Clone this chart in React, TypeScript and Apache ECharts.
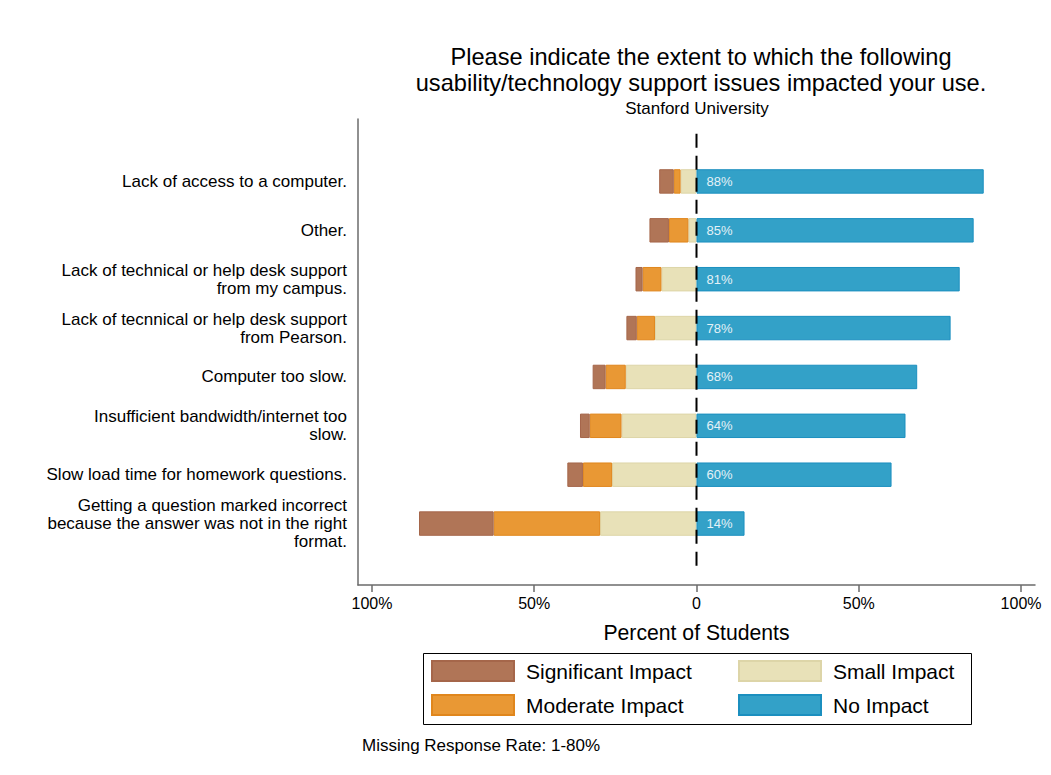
import React, { useEffect, useRef } from "react";
import * as echarts from "echarts";

const categories = [
  "Lack of access to a computer.",
  "Other.",
  "Lack of technical or help desk support\nfrom my campus.",
  "Lack of tecnnical or help desk support\nfrom Pearson.",
  "Computer too slow.",
  "Insufficient bandwidth/internet too\nslow.",
  "Slow load time for homework questions.",
  "Getting a question marked incorrect\nbecause the answer was not in the right\nformat.",
];

const significantImpact = [4.5, 6.0, 2.2, 3.2, 4.0, 3.0, 4.8, 23.0];
const moderateImpact = [2.1, 6.0, 5.8, 5.6, 6.2, 9.8, 9.0, 32.8];
const smallImpact = [4.9, 2.5, 10.8, 12.8, 21.8, 23.1, 26.0, 29.7];
const noImpact = [88.5, 85.4, 81.1, 78.3, 68.0, 64.4, 60.1, 14.8];

const xTickValues = [-100, -50, 0, 50, 100];

const FONT = "'Liberation Sans', Arial, Helvetica, sans-serif";

export default function App() {
  const ref = useRef<HTMLDivElement>(null);

  useEffect(() => {
    if (!ref.current) return;
    const chart = echarts.init(ref.current, null, { renderer: "svg" });

    const xMin = -104.3;
    const xMax = 104.3;

    const legendCommon = {
      orient: "vertical",
      itemWidth: 82,
      itemHeight: 20,
      itemGap: 12,
      padding: 0,
      icon: "rect",
      selectedMode: false,
      textStyle: {
        fontSize: 21,
        color: "#000",
        fontFamily: FONT,
        padding: [0, 0, 0, 7],
      },
    };

    const option: any = {
      animation: false,
      backgroundColor: "#fff",
      textStyle: { fontFamily: FONT },
      title: [
        {
          text:
            "Please indicate the extent to which the following\nusability/technology support issues impacted your use.",
          left: 701,
          top: 44,
          textAlign: "center",
          padding: 0,
          textStyle: {
            fontSize: 23.6,
            fontWeight: "normal",
            color: "#000",
            lineHeight: 26,
            fontFamily: FONT,
          },
        },
        {
          text: "Stanford University",
          left: 697,
          top: 100,
          textAlign: "center",
          padding: 0,
          textStyle: {
            fontSize: 17,
            fontWeight: "normal",
            color: "#000",
            fontFamily: FONT,
          },
        },
        {
          text: "Missing Response Rate: 1-80%",
          left: 362,
          top: 737,
          padding: 0,
          textStyle: {
            fontSize: 17,
            fontWeight: "normal",
            color: "#000",
            fontFamily: FONT,
          },
        },
      ],
      legend: [
        {
          ...legendCommon,
          left: 431,
          top: 660,
          data: ["Significant Impact", "Moderate Impact"],
        },
        {
          ...legendCommon,
          left: 738,
          top: 660,
          data: ["Small Impact", "No Impact"],
        },
      ],
      graphic: [
        {
          type: "rect",
          left: 421,
          top: 651,
          shape: { width: 548, height: 71 },
          style: { fill: "none", stroke: "#000", lineWidth: 1 },
          silent: true,
        },
      ],
      grid: [
        { left: 358, right: 16, top: 119, bottom: 775 - 585 },
        { left: 358, right: 16, top: 157, bottom: 775 - 548 },
      ],
      xAxis: [
        {
          type: "value",
          gridIndex: 0,
          min: xMin,
          max: xMax,
          splitLine: { show: false },
          axisLine: { show: true, onZero: false, lineStyle: { color: "#6b6b6b", width: 1.5 } },
          axisTick: {
            show: true,
            customValues: xTickValues,
            length: 7,
            lineStyle: { color: "#6b6b6b", width: 1.5 },
          },
          axisLabel: {
            customValues: xTickValues,
            fontSize: 16,
            color: "#000",
            margin: 10,
            formatter: (v: number) => (v === 0 ? "0" : Math.abs(v) + "%"),
          },
          name: "Percent of Students",
          nameLocation: "middle",
          nameGap: 37,
          nameTextStyle: { fontSize: 21.2, color: "#000" },
        },
        {
          type: "value",
          gridIndex: 1,
          min: xMin,
          max: xMax,
          show: false,
        },
      ],
      yAxis: [
        {
          type: "value",
          gridIndex: 0,
          inverse: true,
          min: -1.3,
          max: 8.25,
          splitLine: { show: false },
          axisLabel: { show: false },
          axisTick: { show: false },
          axisLine: { show: true, onZero: false, lineStyle: { color: "#6b6b6b", width: 1.5 } },
        },
        {
          type: "category",
          gridIndex: 1,
          inverse: true,
          data: categories,
          axisLine: { show: false },
          axisTick: { show: false },
          splitLine: { show: false },
          axisLabel: {
            fontSize: 17,
            lineHeight: 18,
            color: "#000",
            margin: 11,
            align: "right",
          },
        },
      ],
      series: [
        {
          name: "Small Impact",
          type: "bar",
          xAxisIndex: 1,
          yAxisIndex: 1,
          stack: "total",
          barWidth: "50%",
          data: smallImpact.map((v) => -v),
          itemStyle: { color: "#e8e1b8", borderColor: "#ddd5a8", borderWidth: 1 },
        },
        {
          name: "Moderate Impact",
          type: "bar",
          xAxisIndex: 1,
          yAxisIndex: 1,
          stack: "total",
          barWidth: "50%",
          data: moderateImpact.map((v) => -v),
          itemStyle: { color: "#e99834", borderColor: "#e0861c", borderWidth: 1 },
        },
        {
          name: "Significant Impact",
          type: "bar",
          xAxisIndex: 1,
          yAxisIndex: 1,
          stack: "total",
          barWidth: "50%",
          data: significantImpact.map((v) => -v),
          itemStyle: { color: "#b07557", borderColor: "#a5664a", borderWidth: 1 },
        },
        {
          name: "No Impact",
          type: "bar",
          xAxisIndex: 1,
          yAxisIndex: 1,
          stack: "total",
          barWidth: "50%",
          data: noImpact,
          itemStyle: { color: "#33a1c8", borderColor: "#1b8fbf", borderWidth: 1 },
          label: {
            show: true,
            position: "insideLeft",
            distance: 10,
            fontSize: 13,
            color: "#e4f1f7",
            formatter: (p: any) => Math.floor(p.value) + "%",
          },
        },
        {
          name: "zero",
          type: "line",
          xAxisIndex: 0,
          yAxisIndex: 0,
          data: [
            [0, -1],
            [0, 8],
          ],
          symbol: "none",
          silent: true,
          z: 10,
          lineStyle: { color: "#000", width: 2, type: [14, 8] },
        },
      ],
    };

    chart.setOption(option);
    return () => chart.dispose();
  }, []);

  return (
    <div
      ref={ref}
      style={{ position: "absolute", left: 0, top: 0, width: 1051, height: 775 }}
    />
  );
}
